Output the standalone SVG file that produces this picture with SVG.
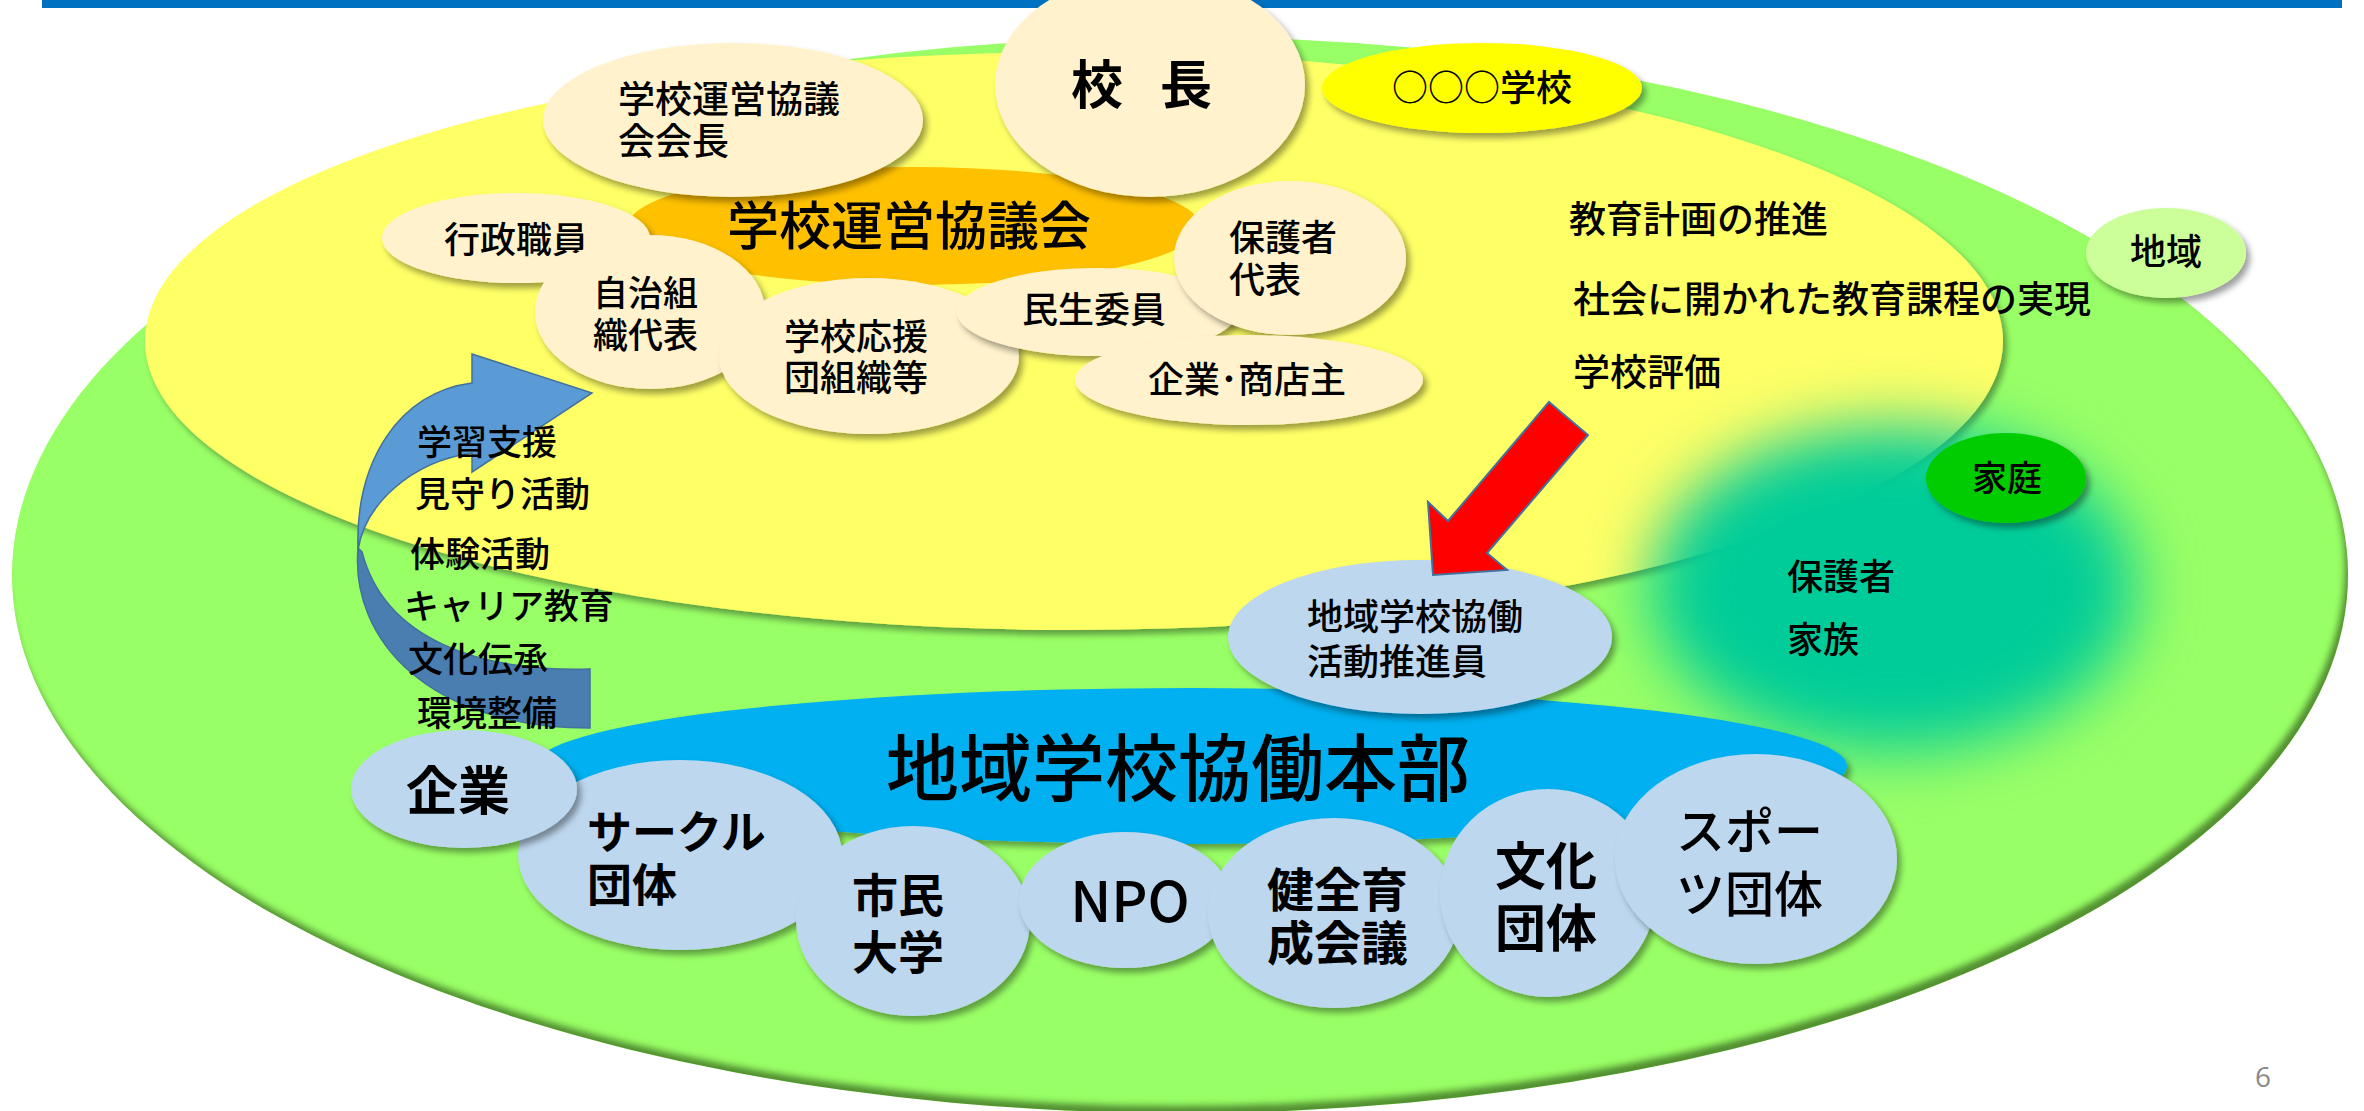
<svg xmlns="http://www.w3.org/2000/svg" width="2364" height="1111" viewBox="0 0 2364 1111">
<defs>
<style>
.t{font-family:"Noto Sans CJK JP","Noto Sans CJK SC",sans-serif;fill:#000;font-weight:500}
.b{font-weight:bold}
.cream{fill:#FFF2CC}
.lb{fill:#BDD7EE}
.sh{filter:url(#ds)}
</style>
<filter id="ds" x="-20%" y="-20%" width="150%" height="150%">
<feDropShadow dx="4" dy="5" stdDeviation="3" flood-color="#000" flood-opacity="0.38"/>
</filter>
<filter id="rim" x="-5%" y="-5%" width="110%" height="110%">
<feGaussianBlur in="SourceAlpha" stdDeviation="3" result="b"/>
<feOffset in="b" dx="-4" dy="-8" result="o"/>
<feComposite in="SourceAlpha" in2="o" operator="out" result="inv"/>
<feFlood flood-color="#3E6E22" flood-opacity="0.85"/>
<feComposite in2="inv" operator="in" result="s"/>
<feMerge><feMergeNode in="SourceGraphic"/><feMergeNode in="s"/></feMerge>
</filter>
<filter id="blur" x="-50%" y="-50%" width="200%" height="200%">
<feGaussianBlur stdDeviation="32"/>
</filter>
</defs>

<rect x="0" y="0" width="2364" height="1111" fill="#FFFFFF"/>

<g id="region-area">
<ellipse cx="1180" cy="575" rx="1168" ry="538" fill="#99FF66" filter="url(#rim)"/>
</g>
<g id="school-area">
<ellipse cx="1074" cy="341" rx="929" ry="289" fill="#FFFF66" class="sh"/>
</g>
<g id="family-area">
<ellipse cx="1893" cy="588" rx="242" ry="162" fill="#00CC99" filter="url(#blur)"/>
</g>

<g id="top-bar"><rect x="42" y="0" width="2300" height="8" fill="#0070C0"/></g>

<g id="council">
<ellipse cx="914" cy="226" rx="286" ry="59" fill="#FFC000"/>
<text class="t" x="727" y="245" font-size="52">学校運営協議会</text>
</g>
<g id="chair">
<ellipse class="cream sh" cx="733" cy="120" rx="190" ry="77"/>
<text class="t" font-size="37"><tspan x="618" y="113">学校運営協議</tspan><tspan x="618" y="155">会会長</tspan></text>
</g>
<g id="principal">
<ellipse class="cream sh" cx="1150" cy="85" rx="155" ry="112"/>
<text class="t b" x="1071" y="104" font-size="52" letter-spacing="-7.5">校　長</text>
</g>
<g id="school-name">
<ellipse cx="1482" cy="88" rx="160" ry="45" fill="#FFFF00" class="sh"/>
<text class="t" x="1482" y="101" font-size="36" text-anchor="middle">○○○学校</text>
</g>
<g id="admin">
<ellipse class="cream sh" cx="516" cy="238" rx="134" ry="45"/>
<text class="t" x="444" y="253" font-size="36">行政職員</text>
</g>
<g id="self-gov">
<ellipse class="cream sh" cx="650" cy="312" rx="115" ry="77"/>
<text class="t" font-size="35"><tspan x="593" y="306">自治組</tspan><tspan x="593" y="348">織代表</tspan></text>
</g>
<g id="support-org">
<ellipse class="cream sh" cx="869" cy="356" rx="150" ry="78"/>
<text class="t" font-size="36"><tspan x="784" y="350">学校応援</tspan><tspan x="784" y="391">団組織等</tspan></text>
</g>
<g id="welfare">
<ellipse class="cream sh" cx="1097" cy="312" rx="140" ry="44"/>
<text class="t" x="1022" y="323" font-size="36">民生委員</text>
</g>
<g id="guardian-rep">
<ellipse class="cream sh" cx="1290" cy="258" rx="116" ry="77"/>
<text class="t" font-size="36"><tspan x="1229" y="251">保護者</tspan><tspan x="1229" y="293">代表</tspan></text>
</g>
<g id="business-owner">
<ellipse class="cream sh" cx="1249" cy="380" rx="174" ry="45"/>
<text class="t" x="1148" y="393" font-size="36">企業･商店主</text>
</g>

<g id="school-goals">
<text class="t" x="1569" y="233" font-size="37">教育計画の推進</text>
<text class="t" x="1573" y="313" font-size="37">社会に開かれた教育課程の実現</text>
<text class="t" x="1573" y="386" font-size="37">学校評価</text>
</g>

<g id="region-label">
<ellipse cx="2166" cy="253" rx="80" ry="45" fill="#CCFF99" class="sh"/>
<text class="t" x="2166" y="265" font-size="36" text-anchor="middle">地域</text>
</g>
<g id="home">
<ellipse cx="2006" cy="478" rx="80" ry="45" fill="#00CC00" class="sh"/>
<text class="t" x="2007" y="491" font-size="35" text-anchor="middle">家庭</text>
</g>
<g id="family-text">
<text class="t" font-size="36"><tspan x="1787" y="590">保護者</tspan><tspan x="1787" y="653">家族</tspan></text>
</g>

<g id="hq">
<ellipse cx="1191" cy="766" rx="656" ry="78" fill="#00B0F0" class="sh"/>
<text class="t" x="886" y="795" font-size="73">地域学校協働本部</text>
</g>
<g id="coordinator">
<ellipse class="lb sh" cx="1420" cy="637" rx="192" ry="77"/>
<text class="t" font-size="36"><tspan x="1307" y="630">地域学校協働</tspan><tspan x="1307" y="675">活動推進員</tspan></text>
</g>

<g id="circle">
<ellipse class="lb sh" cx="680" cy="855" rx="162" ry="95"/>
<text class="t b" font-size="45"><tspan x="587" y="849">サークル</tspan><tspan x="587" y="902">団体</tspan></text>
</g>
<g id="company">
<ellipse class="lb sh" cx="464" cy="789" rx="113" ry="59"/>
<text class="t b" x="458" y="810" font-size="52" text-anchor="middle">企業</text>
</g>
<g id="citizen-univ">
<ellipse class="lb sh" cx="913" cy="921" rx="117" ry="95"/>
<text class="t b" font-size="46"><tspan x="852" y="912">市民</tspan><tspan x="852" y="969">大学</tspan></text>
</g>
<g id="npo">
<ellipse class="lb sh" cx="1125" cy="900" rx="106" ry="68"/>
<text class="t" x="1130" y="922" font-size="56" text-anchor="middle">NPO</text>
</g>
<g id="youth-council">
<ellipse class="lb sh" cx="1334" cy="913" rx="126" ry="95"/>
<text class="t b" font-size="47"><tspan x="1267" y="907">健全育</tspan><tspan x="1267" y="960">成会議</tspan></text>
</g>
<g id="culture">
<ellipse class="lb sh" cx="1548" cy="893" rx="108" ry="104"/>
<text class="t b" font-size="51"><tspan x="1495" y="885">文化</tspan><tspan x="1495" y="947">団体</tspan></text>
</g>
<g id="sports">
<ellipse class="lb sh" cx="1756" cy="859" rx="141" ry="105"/>
<text class="t" font-size="49"><tspan x="1676" y="849">スポー</tspan><tspan x="1676" y="912">ツ団体</tspan></text>
</g>

<g id="connectors">
<path d="M472,354 L592,393 L472,472 L472,453 C410,462 365,505 358,550 C355,460 400,392 472,383 Z" fill="#5B9BD5" stroke="#41719C" stroke-width="1.5"/>
<path d="M358,548 C350,640 430,728 590,728 L590,669 C480,672 385,640 362,552 Z" fill="#4A7DB0" stroke="#41719C" stroke-width="1.5"/>
<polygon points="1549,402 1588,435 1487,553 1507,570 1433,575 1428,502 1448,521" fill="#FF0000" stroke="#41719C" stroke-width="2"/>
</g>

<g id="activities">
<text class="t" font-size="35"><tspan x="417" y="455">学習支援</tspan><tspan x="415" y="507">見守り活動</tspan><tspan x="410" y="567">体験活動</tspan><tspan x="404" y="619">キャリア教育</tspan><tspan x="408" y="672">文化伝承</tspan><tspan x="417" y="726">環境整備</tspan></text>
</g>

<g id="page-number">
<text x="2255" y="1087" font-size="28" font-family="'Open Sans','Noto Sans',sans-serif" fill="#898989">6</text>
</g>
</svg>
